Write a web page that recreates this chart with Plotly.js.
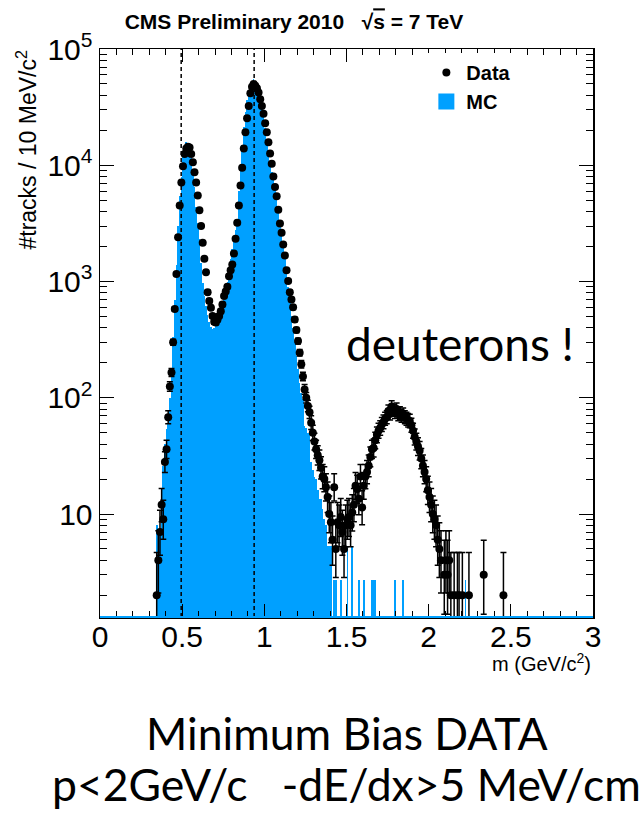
<!DOCTYPE html>
<html>
<head>
<meta charset="utf-8">
<script src="https://cdn.plot.ly/plotly-3.0.1.min.js"></script>
<style>html,body{margin:0;padding:0;background:#fff;}</style>
</head>
<body>
<div id="chart" style="width:644px;height:813px;"></div>
<script>
// Histogram binning (10 MeV/c^2 bins), first bin starts at 0.34 GeV/c^2
const binStart = 0.34;
const binWidth = 0.01;

// Data counts per bin, from 0.34 upward (null = empty bin)
const dataCounts = [
  2, 4, 7, 12, 9, 28,                                                   // 0.34-0.39
  36, 68, 125, 165, 300, 580, 1160, 2400, 4500, 7100,                   // 0.40
  9800, 12500, 13900, 14400, 14200, 12500, 10600, 8700, 7100, 5500,     // 0.50
  4100, 3000, 2150, 1570, 1200, 810, 680, 595, 505, 450,                // 0.60
  445, 470, 505, 555, 635, 750, 820, 900, 1110, 1250,                   // 0.70
  1400, 1740, 2330, 3200, 4500, 6700, 9500, 13900, 19200, 25400,        // 0.80
  32400, 41700, 47400, 50100, 48400, 46000, 42200, 37000, 32400, 27700, // 0.90
  23000, 19200, 15800, 12600, 10300, 8000, 6500, 5400, 4150, 3150,      // 1.00
  2620, 2080, 1670, 1250, 1010, 810, 700, 600, 470, 382,                // 1.10
  307, 244, 194, 152, 118, 100, 85, 75, 61, 50,                         // 1.20
  42, 36, 32, 29, 25, 21, 20, 17, 14, 10,                               // 1.30
  8.5, 6, 17, 5, 8.5, 8, 9.4, 7, 5, 8,                                  // 1.40
  9, 9.4, 8, 10.3, 12, 17.5, 16.4, 13.5, 21, 11.4,                      // 1.50
  17.5, 21, 23, 26, 31, 36, 37, 43, 48, 52,                             // 1.60
  55, 59, 62, 66, 68, 77, 73, 84, 78, 75,                               // 1.70
  80, 72, 74, 70, 72, 68, 66, 64, 63, 58,                               // 1.80
  52, 46, 42, 38, 35, 30, 26, 23, 20, 16,                               // 1.90
  14, 12, 10, 9, 8, 6, 5, 4, null, 3,                                   // 2.00
  4, 3, 4, 2, null, 2, null, 2, 2, null,                                // 2.10
  2, null, null, null, 2, null, null, null, null, null,                 // 2.20
  null, null, null, 3, null, null, null, null, null, null,              // 2.30
  null, null, null, null, null, 2                                       // 2.40
];

// MC prediction per bin, same binning
const mcCounts = [
  8, 2, 7, 15, 26, 40,                                                  // 0.34-0.39
  54, 60, 100, 170, 330, 700, 1400, 3000, 5400, 8000,                   // 0.40
  11900, 15000, 16000, 15500, 14000, 11500, 9000, 6500, 4400, 3200,     // 0.50
  2300, 1450, 980, 750, 620, 520, 450, 410, 390, 400,                   // 0.60
  420, 460, 510, 560, 620, 700, 820, 1000, 1250, 1550,                  // 0.70
  1900, 2300, 2800, 3400, 6000, 9800, 15000, 21500, 29000, 36500,       // 0.80
  43000, 49000, 52500, 55000, 53000, 48000, 43000, 39000, 32000, 26200, // 0.90
  21000, 16600, 13000, 10450, 8800, 7500, 6400, 5400, 4100, 3200,      // 1.00
  2500, 2000, 1550, 1190, 900, 700, 504, 400, 300, 229,                 // 1.10
  175, 135, 110, 97, 57, 55, 50, 50, 28, 24,                            // 1.20
  21, 20, 16, 13.5, 13.5, 11, 9, 8, 5.3, 5.3,                           // 1.30
  5.3, null, 2.7, 2.7, null, null, 2.7, null, null, null,               // 1.40
  5.3, null, null, 5.3, null, null, null, 2.7, null, null,              // 1.50
  2.7, null, null, null, null, 2.7, 2.7, 2.7, null, null,               // 1.60
  null, null, null, null, null, null, null, null, null, 2.7,            // 1.70
  null, null, null, null, 2.7, null, null, null, null, null,            // 1.80
  null, null, null, null, null, null, null, null, null, null,           // 1.90
  null, null, null, null, null, null, null, null, null, null,           // 2.00
  null, null, null, null, null, null, null, null, null, null,           // 2.10
  null, null, 2.7, null, null, null, null, null, null, null,            // 2.20
  null, null, null, null, null, null, null, null, null, null,           // 2.30
  null, null, null, null, null, null                                    // 2.40
];

// Reference masses (kaon, proton) drawn as dashed lines
const massLines = [0.494, 0.938];

// Axis ticks
const xTickVals = [0, 0.5, 1, 1.5, 2, 2.5, 3];
const xTickText = ['0', '0.5', '1', '1.5', '2', '2.5', '3'];
const yTickVals = [10, 100, 1000, 10000, 100000];
const yTickText = ['10', '10<sup>2</sup>', '10<sup>3</sup>', '10<sup>4</sup>', '10<sup>5</sup>'];

const MC_BLUE = '#00a0ff';
const HELV = 'Liberation Sans, Arial, Helvetica, sans-serif';
const SLIDE = 'Lato, Open Sans, sans-serif';

const binCenters = dataCounts.map((_, i) => +(binStart + binWidth * (i + 0.5)).toFixed(4));

// Poisson (Gehrels) error bars for the data points
const errUp = dataCounts.map(n => n == null ? null : Math.sqrt(n + 0.75) + 1);
const errDown = dataCounts.map(n => {
  if (n == null) return null;
  const lo = n * Math.pow(1 - 1 / (9 * n) - 1 / (3 * Math.sqrt(n)), 3);
  return n - lo;
});

const minorY = [];
for (let d = 0; d <= 4; d++) {
  for (let k = 2; k <= 9; k++) minorY.push(k * Math.pow(10, d));
}

const traces = [
  {
    type: 'bar',
    name: 'MC',
    x: binCenters,
    y: mcCounts,
    width: binWidth,
    marker: { color: MC_BLUE, line: { width: 0 } },
    showlegend: false
  },
  {
    type: 'scatter',
    mode: 'markers',
    name: '<b>Data</b>',
    x: binCenters,
    y: dataCounts,
    marker: { color: 'black', size: 8, symbol: 'circle' },
    error_y: {
      type: 'data', symmetric: false,
      array: errUp, arrayminus: errDown,
      color: 'black', thickness: 1.5, width: 3
    }
  },
  {
    // legend entry for the MC histogram (filled box)
    type: 'scatter',
    mode: 'markers',
    name: '<b>MC</b>',
    x: [null], y: [null],
    marker: { color: MC_BLUE, size: 24, symbol: 'square' }
  }
];

const shapes = massLines.map(m => ({
  type: 'line', xref: 'x', yref: 'paper', x0: m, x1: m, y0: 0, y1: 1,
  line: { color: 'black', width: 1.5, dash: '4px,3px' }, layer: 'above'
}));
shapes.push({
  type: 'line', xref: 'paper', yref: 'paper', x0: 0, x1: 1, y0: 0, y1: 0,
  line: { color: MC_BLUE, width: 2 }, layer: 'above'
});

const layout = {
  width: 644, height: 813,
  margin: { l: 100, r: 51, t: 49, b: 196 },
  paper_bgcolor: 'white', plot_bgcolor: 'white',
  bargap: 0,
  showlegend: true,
  title: {
    text: '<b>CMS Preliminary 2010\u00a0\u00a0\u00a0\u221A<span style="text-decoration:overline">s</span> = 7 TeV</b>',
    font: { family: HELV, size: 21, color: 'black' },
    x: 294 / 644, xref: 'container', xanchor: 'center',
    y: 1 - 22 / 813, yref: 'container', yanchor: 'middle'
  },
  legend: {
    x: 0.662, y: 0.993, xanchor: 'left', yanchor: 'top',
    bgcolor: 'white', borderwidth: 0,
    font: { family: HELV, size: 20, color: 'black' },
    itemsizing: 'trace',
    itemwidth: 30
  },
  xaxis: {
    range: [0, 3],
    tickmode: 'array', tickvals: xTickVals, ticktext: xTickText,
    ticks: 'inside', ticklen: 13, tickwidth: 1, tickcolor: 'black',
    ticklabelstandoff: -8,
    minor: { dtick: 0.1, ticks: 'inside', ticklen: 6, tickwidth: 1, tickcolor: 'black', showgrid: false },
    showline: true, linecolor: 'black', linewidth: 1.5, mirror: 'allticks',
    showgrid: false, zeroline: false,
    tickfont: { family: HELV, size: 30, color: 'black' }
  },
  yaxis: {
    type: 'log',
    range: [Math.log10(1.3), 5],
    tickmode: 'array', tickvals: yTickVals, ticktext: yTickText,
    ticks: 'inside', ticklen: 14, tickwidth: 1, tickcolor: 'black',
    minor: { tickmode: 'array', tickvals: minorY, ticks: 'inside', ticklen: 7, tickwidth: 1, tickcolor: 'black', showgrid: false },
    showline: true, linecolor: 'black', linewidth: 1.5, mirror: 'allticks',
    showgrid: false, zeroline: false,
    tickfont: { family: HELV, size: 30, color: 'black' }
  },
  shapes: shapes,
  annotations: [
    {
      text: '#tracks / 10 MeV/c<sup>2</sup>',
      xref: 'paper', yref: 'paper', x: -0.15, y: 1.0,
      xanchor: 'center', yanchor: 'top', textangle: -90, showarrow: false,
      font: { family: HELV, size: 23, color: 'black' }
    },
    {
      text: 'm (GeV/c<sup>2</sup>)',
      xref: 'paper', yref: 'paper', x: 1.0, y: -0.08,
      xanchor: 'right', yanchor: 'middle', showarrow: false,
      font: { family: HELV, size: 20, color: 'black' }
    },
    {
      text: 'deuterons !',
      xref: 'paper', yref: 'paper', x: 0.731, y: 0.482,
      xanchor: 'center', yanchor: 'middle', showarrow: false,
      font: { family: SLIDE, size: 46, color: 'black' }
    },
    {
      text: 'Minimum Bias DATA',
      xref: 'paper', yref: 'paper', x: 0.5, y: -0.204,
      xanchor: 'center', yanchor: 'middle', showarrow: false,
      font: { family: SLIDE, size: 44.5, color: 'black' }
    },
    {
      text: 'p<2GeV/c\u00a0\u00a0\u00a0-dE/dx>5 MeV/cm',
      xref: 'paper', yref: 'paper', x: 0.5, y: -0.293,
      xanchor: 'center', yanchor: 'middle', showarrow: false,
      font: { family: SLIDE, size: 44.5, color: 'black' }
    }
  ]
};

Plotly.newPlot('chart', traces, layout, { displayModeBar: false, staticPlot: true });
</script>
</body>
</html>
